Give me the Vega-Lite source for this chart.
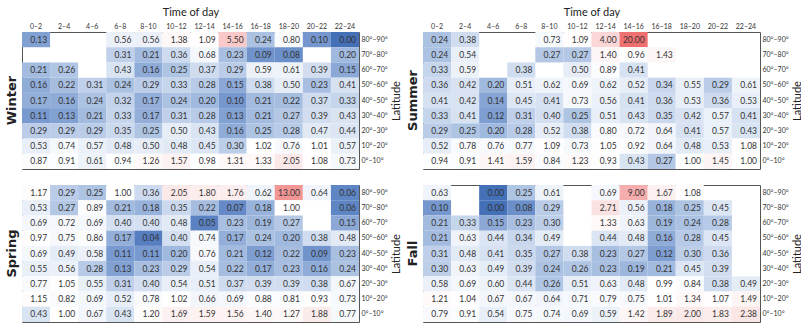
{
"$schema": "https://vega.github.io/schema/vega-lite/v6.json",
"padding": 5,
"config": {"view": {"stroke": "#555", "strokeWidth": 1}, "font": "Lato", "concat": {"spacing": 4}},
"datasets": {"d": [
{"s":"W","t":"0–2","l":"80°–90°","v":0.13},{"s":"W","t":"6–8","l":"80°–90°","v":0.56},{"s":"W","t":"8–10","l":"80°–90°","v":0.56},{"s":"W","t":"10–12","l":"80°–90°","v":1.38},{"s":"W","t":"12–14","l":"80°–90°","v":1.09},{"s":"W","t":"14–16","l":"80°–90°","v":5.50},{"s":"W","t":"16–18","l":"80°–90°","v":0.24},{"s":"W","t":"18–20","l":"80°–90°","v":0.80},{"s":"W","t":"20–22","l":"80°–90°","v":0.10},{"s":"W","t":"22–24","l":"80°–90°","v":0.00},
{"s":"W","t":"6–8","l":"70°–80°","v":0.31},{"s":"W","t":"8–10","l":"70°–80°","v":0.21},{"s":"W","t":"10–12","l":"70°–80°","v":0.36},{"s":"W","t":"12–14","l":"70°–80°","v":0.68},{"s":"W","t":"14–16","l":"70°–80°","v":0.23},{"s":"W","t":"16–18","l":"70°–80°","v":0.09},{"s":"W","t":"18–20","l":"70°–80°","v":0.08},{"s":"W","t":"22–24","l":"70°–80°","v":0.20},
{"s":"W","t":"0–2","l":"60°–70°","v":0.21},{"s":"W","t":"2–4","l":"60°–70°","v":0.26},{"s":"W","t":"6–8","l":"60°–70°","v":0.43},{"s":"W","t":"8–10","l":"60°–70°","v":0.16},{"s":"W","t":"10–12","l":"60°–70°","v":0.25},{"s":"W","t":"12–14","l":"60°–70°","v":0.37},{"s":"W","t":"14–16","l":"60°–70°","v":0.29},{"s":"W","t":"16–18","l":"60°–70°","v":0.59},{"s":"W","t":"18–20","l":"60°–70°","v":0.61},{"s":"W","t":"20–22","l":"60°–70°","v":0.39},{"s":"W","t":"22–24","l":"60°–70°","v":0.15},
{"s":"W","t":"0–2","l":"50°–60°","v":0.16},{"s":"W","t":"2–4","l":"50°–60°","v":0.22},{"s":"W","t":"4–6","l":"50°–60°","v":0.31},{"s":"W","t":"6–8","l":"50°–60°","v":0.24},{"s":"W","t":"8–10","l":"50°–60°","v":0.29},{"s":"W","t":"10–12","l":"50°–60°","v":0.33},{"s":"W","t":"12–14","l":"50°–60°","v":0.28},{"s":"W","t":"14–16","l":"50°–60°","v":0.15},{"s":"W","t":"16–18","l":"50°–60°","v":0.38},{"s":"W","t":"18–20","l":"50°–60°","v":0.50},{"s":"W","t":"20–22","l":"50°–60°","v":0.23},{"s":"W","t":"22–24","l":"50°–60°","v":0.41},
{"s":"W","t":"0–2","l":"40°–50°","v":0.17},{"s":"W","t":"2–4","l":"40°–50°","v":0.16},{"s":"W","t":"4–6","l":"40°–50°","v":0.24},{"s":"W","t":"6–8","l":"40°–50°","v":0.32},{"s":"W","t":"8–10","l":"40°–50°","v":0.17},{"s":"W","t":"10–12","l":"40°–50°","v":0.24},{"s":"W","t":"12–14","l":"40°–50°","v":0.20},{"s":"W","t":"14–16","l":"40°–50°","v":0.10},{"s":"W","t":"16–18","l":"40°–50°","v":0.21},{"s":"W","t":"18–20","l":"40°–50°","v":0.22},{"s":"W","t":"20–22","l":"40°–50°","v":0.37},{"s":"W","t":"22–24","l":"40°–50°","v":0.33},
{"s":"W","t":"0–2","l":"30°–40°","v":0.11},{"s":"W","t":"2–4","l":"30°–40°","v":0.13},{"s":"W","t":"4–6","l":"30°–40°","v":0.21},{"s":"W","t":"6–8","l":"30°–40°","v":0.33},{"s":"W","t":"8–10","l":"30°–40°","v":0.17},{"s":"W","t":"10–12","l":"30°–40°","v":0.31},{"s":"W","t":"12–14","l":"30°–40°","v":0.28},{"s":"W","t":"14–16","l":"30°–40°","v":0.13},{"s":"W","t":"16–18","l":"30°–40°","v":0.21},{"s":"W","t":"18–20","l":"30°–40°","v":0.27},{"s":"W","t":"20–22","l":"30°–40°","v":0.39},{"s":"W","t":"22–24","l":"30°–40°","v":0.43},
{"s":"W","t":"0–2","l":"20°–30°","v":0.29},{"s":"W","t":"2–4","l":"20°–30°","v":0.29},{"s":"W","t":"4–6","l":"20°–30°","v":0.29},{"s":"W","t":"6–8","l":"20°–30°","v":0.35},{"s":"W","t":"8–10","l":"20°–30°","v":0.25},{"s":"W","t":"10–12","l":"20°–30°","v":0.50},{"s":"W","t":"12–14","l":"20°–30°","v":0.43},{"s":"W","t":"14–16","l":"20°–30°","v":0.16},{"s":"W","t":"16–18","l":"20°–30°","v":0.25},{"s":"W","t":"18–20","l":"20°–30°","v":0.28},{"s":"W","t":"20–22","l":"20°–30°","v":0.47},{"s":"W","t":"22–24","l":"20°–30°","v":0.44},
{"s":"W","t":"0–2","l":"10°–20°","v":0.53},{"s":"W","t":"2–4","l":"10°–20°","v":0.74},{"s":"W","t":"4–6","l":"10°–20°","v":0.57},{"s":"W","t":"6–8","l":"10°–20°","v":0.48},{"s":"W","t":"8–10","l":"10°–20°","v":0.50},{"s":"W","t":"10–12","l":"10°–20°","v":0.48},{"s":"W","t":"12–14","l":"10°–20°","v":0.45},{"s":"W","t":"14–16","l":"10°–20°","v":0.30},{"s":"W","t":"16–18","l":"10°–20°","v":1.02},{"s":"W","t":"18–20","l":"10°–20°","v":0.76},{"s":"W","t":"20–22","l":"10°–20°","v":1.01},{"s":"W","t":"22–24","l":"10°–20°","v":0.57},
{"s":"W","t":"0–2","l":"0°–10°","v":0.87},{"s":"W","t":"2–4","l":"0°–10°","v":0.91},{"s":"W","t":"4–6","l":"0°–10°","v":0.61},{"s":"W","t":"6–8","l":"0°–10°","v":0.94},{"s":"W","t":"8–10","l":"0°–10°","v":1.26},{"s":"W","t":"10–12","l":"0°–10°","v":1.57},{"s":"W","t":"12–14","l":"0°–10°","v":0.98},{"s":"W","t":"14–16","l":"0°–10°","v":1.31},{"s":"W","t":"16–18","l":"0°–10°","v":1.33},{"s":"W","t":"18–20","l":"0°–10°","v":2.05},{"s":"W","t":"20–22","l":"0°–10°","v":1.08},{"s":"W","t":"22–24","l":"0°–10°","v":0.73},

{"s":"Su","t":"0–2","l":"80°–90°","v":0.24},{"s":"Su","t":"2–4","l":"80°–90°","v":0.38},{"s":"Su","t":"8–10","l":"80°–90°","v":0.73},{"s":"Su","t":"10–12","l":"80°–90°","v":1.09},{"s":"Su","t":"12–14","l":"80°–90°","v":4.00},{"s":"Su","t":"14–16","l":"80°–90°","v":20.00},
{"s":"Su","t":"0–2","l":"70°–80°","v":0.24},{"s":"Su","t":"2–4","l":"70°–80°","v":0.54},{"s":"Su","t":"8–10","l":"70°–80°","v":0.27},{"s":"Su","t":"10–12","l":"70°–80°","v":0.27},{"s":"Su","t":"12–14","l":"70°–80°","v":1.40},{"s":"Su","t":"14–16","l":"70°–80°","v":0.96},{"s":"Su","t":"16–18","l":"70°–80°","v":1.43},
{"s":"Su","t":"0–2","l":"60°–70°","v":0.33},{"s":"Su","t":"2–4","l":"60°–70°","v":0.59},{"s":"Su","t":"6–8","l":"60°–70°","v":0.38},{"s":"Su","t":"10–12","l":"60°–70°","v":0.50},{"s":"Su","t":"12–14","l":"60°–70°","v":0.89},{"s":"Su","t":"14–16","l":"60°–70°","v":0.41},
{"s":"Su","t":"0–2","l":"50°–60°","v":0.36},{"s":"Su","t":"2–4","l":"50°–60°","v":0.42},{"s":"Su","t":"4–6","l":"50°–60°","v":0.20},{"s":"Su","t":"6–8","l":"50°–60°","v":0.51},{"s":"Su","t":"8–10","l":"50°–60°","v":0.62},{"s":"Su","t":"10–12","l":"50°–60°","v":0.69},{"s":"Su","t":"12–14","l":"50°–60°","v":0.62},{"s":"Su","t":"14–16","l":"50°–60°","v":0.52},{"s":"Su","t":"16–18","l":"50°–60°","v":0.34},{"s":"Su","t":"18–20","l":"50°–60°","v":0.55},{"s":"Su","t":"20–22","l":"50°–60°","v":0.29},{"s":"Su","t":"22–24","l":"50°–60°","v":0.61},
{"s":"Su","t":"0–2","l":"40°–50°","v":0.41},{"s":"Su","t":"2–4","l":"40°–50°","v":0.42},{"s":"Su","t":"4–6","l":"40°–50°","v":0.14},{"s":"Su","t":"6–8","l":"40°–50°","v":0.45},{"s":"Su","t":"8–10","l":"40°–50°","v":0.41},{"s":"Su","t":"10–12","l":"40°–50°","v":0.73},{"s":"Su","t":"12–14","l":"40°–50°","v":0.56},{"s":"Su","t":"14–16","l":"40°–50°","v":0.41},{"s":"Su","t":"16–18","l":"40°–50°","v":0.36},{"s":"Su","t":"18–20","l":"40°–50°","v":0.53},{"s":"Su","t":"20–22","l":"40°–50°","v":0.36},{"s":"Su","t":"22–24","l":"40°–50°","v":0.53},
{"s":"Su","t":"0–2","l":"30°–40°","v":0.33},{"s":"Su","t":"2–4","l":"30°–40°","v":0.41},{"s":"Su","t":"4–6","l":"30°–40°","v":0.12},{"s":"Su","t":"6–8","l":"30°–40°","v":0.31},{"s":"Su","t":"8–10","l":"30°–40°","v":0.40},{"s":"Su","t":"10–12","l":"30°–40°","v":0.25},{"s":"Su","t":"12–14","l":"30°–40°","v":0.51},{"s":"Su","t":"14–16","l":"30°–40°","v":0.43},{"s":"Su","t":"16–18","l":"30°–40°","v":0.35},{"s":"Su","t":"18–20","l":"30°–40°","v":0.42},{"s":"Su","t":"20–22","l":"30°–40°","v":0.57},{"s":"Su","t":"22–24","l":"30°–40°","v":0.41},
{"s":"Su","t":"0–2","l":"20°–30°","v":0.29},{"s":"Su","t":"2–4","l":"20°–30°","v":0.25},{"s":"Su","t":"4–6","l":"20°–30°","v":0.20},{"s":"Su","t":"6–8","l":"20°–30°","v":0.28},{"s":"Su","t":"8–10","l":"20°–30°","v":0.52},{"s":"Su","t":"10–12","l":"20°–30°","v":0.38},{"s":"Su","t":"12–14","l":"20°–30°","v":0.80},{"s":"Su","t":"14–16","l":"20°–30°","v":0.72},{"s":"Su","t":"16–18","l":"20°–30°","v":0.64},{"s":"Su","t":"18–20","l":"20°–30°","v":0.41},{"s":"Su","t":"20–22","l":"20°–30°","v":0.57},{"s":"Su","t":"22–24","l":"20°–30°","v":0.43},
{"s":"Su","t":"0–2","l":"10°–20°","v":0.52},{"s":"Su","t":"2–4","l":"10°–20°","v":0.78},{"s":"Su","t":"4–6","l":"10°–20°","v":0.76},{"s":"Su","t":"6–8","l":"10°–20°","v":0.77},{"s":"Su","t":"8–10","l":"10°–20°","v":1.09},{"s":"Su","t":"10–12","l":"10°–20°","v":0.73},{"s":"Su","t":"12–14","l":"10°–20°","v":1.05},{"s":"Su","t":"14–16","l":"10°–20°","v":0.92},{"s":"Su","t":"16–18","l":"10°–20°","v":0.64},{"s":"Su","t":"18–20","l":"10°–20°","v":0.48},{"s":"Su","t":"20–22","l":"10°–20°","v":0.53},{"s":"Su","t":"22–24","l":"10°–20°","v":1.08},
{"s":"Su","t":"0–2","l":"0°–10°","v":0.94},{"s":"Su","t":"2–4","l":"0°–10°","v":0.91},{"s":"Su","t":"4–6","l":"0°–10°","v":1.41},{"s":"Su","t":"6–8","l":"0°–10°","v":1.59},{"s":"Su","t":"8–10","l":"0°–10°","v":0.84},{"s":"Su","t":"10–12","l":"0°–10°","v":1.23},{"s":"Su","t":"12–14","l":"0°–10°","v":0.93},{"s":"Su","t":"14–16","l":"0°–10°","v":0.43},{"s":"Su","t":"16–18","l":"0°–10°","v":0.27},{"s":"Su","t":"18–20","l":"0°–10°","v":1.00},{"s":"Su","t":"20–22","l":"0°–10°","v":1.45},{"s":"Su","t":"22–24","l":"0°–10°","v":1.00},

{"s":"Sp","t":"0–2","l":"80°–90°","v":1.17},{"s":"Sp","t":"2–4","l":"80°–90°","v":0.29},{"s":"Sp","t":"4–6","l":"80°–90°","v":0.25},{"s":"Sp","t":"6–8","l":"80°–90°","v":1.00},{"s":"Sp","t":"8–10","l":"80°–90°","v":0.36},{"s":"Sp","t":"10–12","l":"80°–90°","v":2.05},{"s":"Sp","t":"12–14","l":"80°–90°","v":1.80},{"s":"Sp","t":"14–16","l":"80°–90°","v":1.76},{"s":"Sp","t":"16–18","l":"80°–90°","v":0.62},{"s":"Sp","t":"18–20","l":"80°–90°","v":13.00},{"s":"Sp","t":"20–22","l":"80°–90°","v":0.64},{"s":"Sp","t":"22–24","l":"80°–90°","v":0.06},
{"s":"Sp","t":"0–2","l":"70°–80°","v":0.53},{"s":"Sp","t":"2–4","l":"70°–80°","v":0.27},{"s":"Sp","t":"4–6","l":"70°–80°","v":0.89},{"s":"Sp","t":"6–8","l":"70°–80°","v":0.21},{"s":"Sp","t":"8–10","l":"70°–80°","v":0.18},{"s":"Sp","t":"10–12","l":"70°–80°","v":0.35},{"s":"Sp","t":"12–14","l":"70°–80°","v":0.22},{"s":"Sp","t":"14–16","l":"70°–80°","v":0.07},{"s":"Sp","t":"16–18","l":"70°–80°","v":0.18},{"s":"Sp","t":"18–20","l":"70°–80°","v":1.00},{"s":"Sp","t":"22–24","l":"70°–80°","v":0.06},
{"s":"Sp","t":"0–2","l":"60°–70°","v":0.69},{"s":"Sp","t":"2–4","l":"60°–70°","v":0.72},{"s":"Sp","t":"4–6","l":"60°–70°","v":0.69},{"s":"Sp","t":"6–8","l":"60°–70°","v":0.40},{"s":"Sp","t":"8–10","l":"60°–70°","v":0.40},{"s":"Sp","t":"10–12","l":"60°–70°","v":0.48},{"s":"Sp","t":"12–14","l":"60°–70°","v":0.05},{"s":"Sp","t":"14–16","l":"60°–70°","v":0.23},{"s":"Sp","t":"16–18","l":"60°–70°","v":0.19},{"s":"Sp","t":"18–20","l":"60°–70°","v":0.27},{"s":"Sp","t":"22–24","l":"60°–70°","v":0.15},
{"s":"Sp","t":"0–2","l":"50°–60°","v":0.97},{"s":"Sp","t":"2–4","l":"50°–60°","v":0.75},{"s":"Sp","t":"4–6","l":"50°–60°","v":0.86},{"s":"Sp","t":"6–8","l":"50°–60°","v":0.17},{"s":"Sp","t":"8–10","l":"50°–60°","v":0.04},{"s":"Sp","t":"10–12","l":"50°–60°","v":0.40},{"s":"Sp","t":"12–14","l":"50°–60°","v":0.74},{"s":"Sp","t":"14–16","l":"50°–60°","v":0.17},{"s":"Sp","t":"16–18","l":"50°–60°","v":0.24},{"s":"Sp","t":"18–20","l":"50°–60°","v":0.20},{"s":"Sp","t":"20–22","l":"50°–60°","v":0.38},{"s":"Sp","t":"22–24","l":"50°–60°","v":0.48},
{"s":"Sp","t":"0–2","l":"40°–50°","v":0.69},{"s":"Sp","t":"2–4","l":"40°–50°","v":0.49},{"s":"Sp","t":"4–6","l":"40°–50°","v":0.58},{"s":"Sp","t":"6–8","l":"40°–50°","v":0.11},{"s":"Sp","t":"8–10","l":"40°–50°","v":0.11},{"s":"Sp","t":"10–12","l":"40°–50°","v":0.20},{"s":"Sp","t":"12–14","l":"40°–50°","v":0.76},{"s":"Sp","t":"14–16","l":"40°–50°","v":0.21},{"s":"Sp","t":"16–18","l":"40°–50°","v":0.12},{"s":"Sp","t":"18–20","l":"40°–50°","v":0.22},{"s":"Sp","t":"20–22","l":"40°–50°","v":0.09},{"s":"Sp","t":"22–24","l":"40°–50°","v":0.23},
{"s":"Sp","t":"0–2","l":"30°–40°","v":0.55},{"s":"Sp","t":"2–4","l":"30°–40°","v":0.56},{"s":"Sp","t":"4–6","l":"30°–40°","v":0.28},{"s":"Sp","t":"6–8","l":"30°–40°","v":0.13},{"s":"Sp","t":"8–10","l":"30°–40°","v":0.23},{"s":"Sp","t":"10–12","l":"30°–40°","v":0.29},{"s":"Sp","t":"12–14","l":"30°–40°","v":0.54},{"s":"Sp","t":"14–16","l":"30°–40°","v":0.22},{"s":"Sp","t":"16–18","l":"30°–40°","v":0.17},{"s":"Sp","t":"18–20","l":"30°–40°","v":0.23},{"s":"Sp","t":"20–22","l":"30°–40°","v":0.16},{"s":"Sp","t":"22–24","l":"30°–40°","v":0.24},
{"s":"Sp","t":"0–2","l":"20°–30°","v":0.77},{"s":"Sp","t":"2–4","l":"20°–30°","v":1.05},{"s":"Sp","t":"4–6","l":"20°–30°","v":0.55},{"s":"Sp","t":"6–8","l":"20°–30°","v":0.31},{"s":"Sp","t":"8–10","l":"20°–30°","v":0.40},{"s":"Sp","t":"10–12","l":"20°–30°","v":0.54},{"s":"Sp","t":"12–14","l":"20°–30°","v":0.51},{"s":"Sp","t":"14–16","l":"20°–30°","v":0.37},{"s":"Sp","t":"16–18","l":"20°–30°","v":0.39},{"s":"Sp","t":"18–20","l":"20°–30°","v":0.39},{"s":"Sp","t":"20–22","l":"20°–30°","v":0.38},{"s":"Sp","t":"22–24","l":"20°–30°","v":0.67},
{"s":"Sp","t":"0–2","l":"10°–20°","v":1.15},{"s":"Sp","t":"2–4","l":"10°–20°","v":0.82},{"s":"Sp","t":"4–6","l":"10°–20°","v":0.69},{"s":"Sp","t":"6–8","l":"10°–20°","v":0.52},{"s":"Sp","t":"8–10","l":"10°–20°","v":0.78},{"s":"Sp","t":"10–12","l":"10°–20°","v":1.02},{"s":"Sp","t":"12–14","l":"10°–20°","v":0.66},{"s":"Sp","t":"14–16","l":"10°–20°","v":0.69},{"s":"Sp","t":"16–18","l":"10°–20°","v":0.88},{"s":"Sp","t":"18–20","l":"10°–20°","v":0.81},{"s":"Sp","t":"20–22","l":"10°–20°","v":0.93},{"s":"Sp","t":"22–24","l":"10°–20°","v":0.73},
{"s":"Sp","t":"0–2","l":"0°–10°","v":0.43},{"s":"Sp","t":"2–4","l":"0°–10°","v":1.00},{"s":"Sp","t":"4–6","l":"0°–10°","v":0.67},{"s":"Sp","t":"6–8","l":"0°–10°","v":0.43},{"s":"Sp","t":"8–10","l":"0°–10°","v":1.20},{"s":"Sp","t":"10–12","l":"0°–10°","v":1.69},{"s":"Sp","t":"12–14","l":"0°–10°","v":1.59},{"s":"Sp","t":"14–16","l":"0°–10°","v":1.56},{"s":"Sp","t":"16–18","l":"0°–10°","v":1.40},{"s":"Sp","t":"18–20","l":"0°–10°","v":1.27},{"s":"Sp","t":"20–22","l":"0°–10°","v":1.88},{"s":"Sp","t":"22–24","l":"0°–10°","v":0.77},

{"s":"F","t":"0–2","l":"80°–90°","v":0.63},{"s":"F","t":"4–6","l":"80°–90°","v":0.00},{"s":"F","t":"6–8","l":"80°–90°","v":0.25},{"s":"F","t":"8–10","l":"80°–90°","v":0.61},{"s":"F","t":"12–14","l":"80°–90°","v":0.69},{"s":"F","t":"14–16","l":"80°–90°","v":9.00},{"s":"F","t":"16–18","l":"80°–90°","v":1.67},{"s":"F","t":"18–20","l":"80°–90°","v":1.08},
{"s":"F","t":"0–2","l":"70°–80°","v":0.10},{"s":"F","t":"4–6","l":"70°–80°","v":0.00},{"s":"F","t":"6–8","l":"70°–80°","v":0.08},{"s":"F","t":"8–10","l":"70°–80°","v":0.29},{"s":"F","t":"12–14","l":"70°–80°","v":2.71},{"s":"F","t":"14–16","l":"70°–80°","v":0.56},{"s":"F","t":"16–18","l":"70°–80°","v":0.18},{"s":"F","t":"18–20","l":"70°–80°","v":0.25},{"s":"F","t":"20–22","l":"70°–80°","v":0.45},
{"s":"F","t":"0–2","l":"60°–70°","v":0.21},{"s":"F","t":"2–4","l":"60°–70°","v":0.33},{"s":"F","t":"4–6","l":"60°–70°","v":0.15},{"s":"F","t":"6–8","l":"60°–70°","v":0.23},{"s":"F","t":"8–10","l":"60°–70°","v":0.30},{"s":"F","t":"12–14","l":"60°–70°","v":1.33},{"s":"F","t":"14–16","l":"60°–70°","v":0.63},{"s":"F","t":"16–18","l":"60°–70°","v":0.19},{"s":"F","t":"18–20","l":"60°–70°","v":0.24},{"s":"F","t":"20–22","l":"60°–70°","v":0.28},
{"s":"F","t":"0–2","l":"50°–60°","v":0.21},{"s":"F","t":"2–4","l":"50°–60°","v":0.63},{"s":"F","t":"4–6","l":"50°–60°","v":0.44},{"s":"F","t":"6–8","l":"50°–60°","v":0.34},{"s":"F","t":"8–10","l":"50°–60°","v":0.49},{"s":"F","t":"12–14","l":"50°–60°","v":0.44},{"s":"F","t":"14–16","l":"50°–60°","v":0.48},{"s":"F","t":"16–18","l":"50°–60°","v":0.16},{"s":"F","t":"18–20","l":"50°–60°","v":0.28},{"s":"F","t":"20–22","l":"50°–60°","v":0.45},
{"s":"F","t":"0–2","l":"40°–50°","v":0.31},{"s":"F","t":"2–4","l":"40°–50°","v":0.48},{"s":"F","t":"4–6","l":"40°–50°","v":0.41},{"s":"F","t":"6–8","l":"40°–50°","v":0.35},{"s":"F","t":"8–10","l":"40°–50°","v":0.27},{"s":"F","t":"10–12","l":"40°–50°","v":0.38},{"s":"F","t":"12–14","l":"40°–50°","v":0.23},{"s":"F","t":"14–16","l":"40°–50°","v":0.27},{"s":"F","t":"16–18","l":"40°–50°","v":0.12},{"s":"F","t":"18–20","l":"40°–50°","v":0.30},{"s":"F","t":"20–22","l":"40°–50°","v":0.36},
{"s":"F","t":"0–2","l":"30°–40°","v":0.30},{"s":"F","t":"2–4","l":"30°–40°","v":0.63},{"s":"F","t":"4–6","l":"30°–40°","v":0.49},{"s":"F","t":"6–8","l":"30°–40°","v":0.39},{"s":"F","t":"8–10","l":"30°–40°","v":0.24},{"s":"F","t":"10–12","l":"30°–40°","v":0.26},{"s":"F","t":"12–14","l":"30°–40°","v":0.23},{"s":"F","t":"14–16","l":"30°–40°","v":0.19},{"s":"F","t":"16–18","l":"30°–40°","v":0.21},{"s":"F","t":"18–20","l":"30°–40°","v":0.45},{"s":"F","t":"20–22","l":"30°–40°","v":0.39},
{"s":"F","t":"0–2","l":"20°–30°","v":0.58},{"s":"F","t":"2–4","l":"20°–30°","v":0.69},{"s":"F","t":"4–6","l":"20°–30°","v":0.60},{"s":"F","t":"6–8","l":"20°–30°","v":0.44},{"s":"F","t":"8–10","l":"20°–30°","v":0.26},{"s":"F","t":"10–12","l":"20°–30°","v":0.51},{"s":"F","t":"12–14","l":"20°–30°","v":0.63},{"s":"F","t":"14–16","l":"20°–30°","v":0.48},{"s":"F","t":"16–18","l":"20°–30°","v":0.99},{"s":"F","t":"18–20","l":"20°–30°","v":0.84},{"s":"F","t":"20–22","l":"20°–30°","v":0.38},{"s":"F","t":"22–24","l":"20°–30°","v":0.49},
{"s":"F","t":"0–2","l":"10°–20°","v":1.21},{"s":"F","t":"2–4","l":"10°–20°","v":1.04},{"s":"F","t":"4–6","l":"10°–20°","v":0.67},{"s":"F","t":"6–8","l":"10°–20°","v":0.67},{"s":"F","t":"8–10","l":"10°–20°","v":0.64},{"s":"F","t":"10–12","l":"10°–20°","v":0.71},{"s":"F","t":"12–14","l":"10°–20°","v":0.79},{"s":"F","t":"14–16","l":"10°–20°","v":0.75},{"s":"F","t":"16–18","l":"10°–20°","v":1.01},{"s":"F","t":"18–20","l":"10°–20°","v":1.34},{"s":"F","t":"20–22","l":"10°–20°","v":1.07},{"s":"F","t":"22–24","l":"10°–20°","v":1.49},
{"s":"F","t":"0–2","l":"0°–10°","v":0.79},{"s":"F","t":"2–4","l":"0°–10°","v":0.91},{"s":"F","t":"4–6","l":"0°–10°","v":0.54},{"s":"F","t":"6–8","l":"0°–10°","v":0.75},{"s":"F","t":"8–10","l":"0°–10°","v":0.74},{"s":"F","t":"10–12","l":"0°–10°","v":0.69},{"s":"F","t":"12–14","l":"0°–10°","v":0.59},{"s":"F","t":"14–16","l":"0°–10°","v":1.42},{"s":"F","t":"16–18","l":"0°–10°","v":1.89},{"s":"F","t":"18–20","l":"0°–10°","v":2.00},{"s":"F","t":"20–22","l":"0°–10°","v":1.83},{"s":"F","t":"22–24","l":"0°–10°","v":2.38}
]},
"data": {"name": "d"},
"vconcat": [
{"hconcat": [
{"width": 337, "height": 137,
 "title": {"text": "Winter", "orient": "left", "font": "DejaVu Sans", "fontSize": 13, "fontWeight": "bold", "color": "#222", "offset": 3},
 "transform": [{"filter": "datum.s == 'W'"}],
 "layer": [
  {"mark": "rect", "encoding": {
   "x": {"field": "t", "type": "ordinal", "scale": {"domain": ["0–2","2–4","4–6","6–8","8–10","10–12","12–14","14–16","16–18","18–20","20–22","22–24"]}, "axis": {"orient": "top", "title": "Time of day", "labelAngle": 0, "ticks": false, "domain": false, "labelFontSize": 7, "labelColor": "#333", "labelPadding": 3, "titleFontSize": 11, "titleFontWeight": "normal", "titleColor": "#222", "titlePadding": 5}},
   "y": {"field": "l", "type": "ordinal", "scale": {"domain": ["80°–90°","70°–80°","60°–70°","50°–60°","40°–50°","30°–40°","20°–30°","10°–20°","0°–10°"]}, "axis": {"orient": "right", "title": "Latitude", "ticks": false, "domain": false, "labelFontSize": 7, "labelColor": "#333", "labelPadding": 2, "titleFontSize": 11, "titleFontWeight": "normal", "titleColor": "#222", "titleAngle": -90, "titleBaseline": "top", "titlePadding": 3}},
   "color": {"field": "v", "type": "quantitative", "legend": null, "scale": {"type": "linear", "domain": [0,0.05,0.1,0.2,0.35,0.5,0.7,1,2,5,10,20], "range": ["#4470b8","#5a82c2","#7597ce","#a0b9de","#cbd9ee","#e6edf7","#f5f8fc","#ffffff","#fbe9e9","#f9cdcd","#f4a5a5","#ee7070"], "interpolate": "rgb"}}}},
  {"mark": {"type": "text", "align": "right", "dx": -3, "fontSize": 8.5, "color": "#333"}, "encoding": {
   "x": {"field": "t", "type": "ordinal", "bandPosition": 1},
   "y": {"field": "l", "type": "ordinal"},
   "text": {"field": "v", "type": "quantitative", "format": ".2f"}}}
 ]},
{"width": 337, "height": 137,
 "title": {"text": "Summer", "orient": "left", "font": "DejaVu Sans", "fontSize": 13, "fontWeight": "bold", "color": "#222", "offset": 3},
 "transform": [{"filter": "datum.s == 'Su'"}],
 "layer": [
  {"mark": "rect", "encoding": {
   "x": {"field": "t", "type": "ordinal", "scale": {"domain": ["0–2","2–4","4–6","6–8","8–10","10–12","12–14","14–16","16–18","18–20","20–22","22–24"]}, "axis": {"orient": "top", "title": "Time of day", "labelAngle": 0, "ticks": false, "domain": false, "labelFontSize": 7, "labelColor": "#333", "labelPadding": 3, "titleFontSize": 11, "titleFontWeight": "normal", "titleColor": "#222", "titlePadding": 5}},
   "y": {"field": "l", "type": "ordinal", "scale": {"domain": ["80°–90°","70°–80°","60°–70°","50°–60°","40°–50°","30°–40°","20°–30°","10°–20°","0°–10°"]}, "axis": {"orient": "right", "title": "Latitude", "ticks": false, "domain": false, "labelFontSize": 7, "labelColor": "#333", "labelPadding": 2, "titleFontSize": 11, "titleFontWeight": "normal", "titleColor": "#222", "titleAngle": -90, "titleBaseline": "top", "titlePadding": 3}},
   "color": {"field": "v", "type": "quantitative", "legend": null, "scale": {"type": "linear", "domain": [0,0.05,0.1,0.2,0.35,0.5,0.7,1,2,5,10,20], "range": ["#4470b8","#5a82c2","#7597ce","#a0b9de","#cbd9ee","#e6edf7","#f5f8fc","#ffffff","#fbe9e9","#f9cdcd","#f4a5a5","#ee7070"], "interpolate": "rgb"}}}},
  {"mark": {"type": "text", "align": "right", "dx": -3, "fontSize": 8.5, "color": "#333"}, "encoding": {
   "x": {"field": "t", "type": "ordinal", "bandPosition": 1},
   "y": {"field": "l", "type": "ordinal"},
   "text": {"field": "v", "type": "quantitative", "format": ".2f"}}}
 ]}
]},
{"hconcat": [
{"width": 337, "height": 137,
 "title": {"text": "Spring", "orient": "left", "font": "DejaVu Sans", "fontSize": 13, "fontWeight": "bold", "color": "#222", "offset": 3},
 "transform": [{"filter": "datum.s == 'Sp'"}],
 "layer": [
  {"mark": "rect", "encoding": {
   "x": {"field": "t", "type": "ordinal", "scale": {"domain": ["0–2","2–4","4–6","6–8","8–10","10–12","12–14","14–16","16–18","18–20","20–22","22–24"]}, "axis": null},
   "y": {"field": "l", "type": "ordinal", "scale": {"domain": ["80°–90°","70°–80°","60°–70°","50°–60°","40°–50°","30°–40°","20°–30°","10°–20°","0°–10°"]}, "axis": {"orient": "right", "title": "Latitude", "ticks": false, "domain": false, "labelFontSize": 7, "labelColor": "#333", "labelPadding": 2, "titleFontSize": 11, "titleFontWeight": "normal", "titleColor": "#222", "titleAngle": -90, "titleBaseline": "top", "titlePadding": 3}},
   "color": {"field": "v", "type": "quantitative", "legend": null, "scale": {"type": "linear", "domain": [0,0.05,0.1,0.2,0.35,0.5,0.7,1,2,5,10,20], "range": ["#4470b8","#5a82c2","#7597ce","#a0b9de","#cbd9ee","#e6edf7","#f5f8fc","#ffffff","#fbe9e9","#f9cdcd","#f4a5a5","#ee7070"], "interpolate": "rgb"}}}},
  {"mark": {"type": "text", "align": "right", "dx": -3, "fontSize": 8.5, "color": "#333"}, "encoding": {
   "x": {"field": "t", "type": "ordinal", "bandPosition": 1, "axis": null},
   "y": {"field": "l", "type": "ordinal"},
   "text": {"field": "v", "type": "quantitative", "format": ".2f"}}}
 ]},
{"width": 337, "height": 137,
 "title": {"text": "Fall", "orient": "left", "font": "DejaVu Sans", "fontSize": 13, "fontWeight": "bold", "color": "#222", "offset": 3},
 "transform": [{"filter": "datum.s == 'F'"}],
 "layer": [
  {"mark": "rect", "encoding": {
   "x": {"field": "t", "type": "ordinal", "scale": {"domain": ["0–2","2–4","4–6","6–8","8–10","10–12","12–14","14–16","16–18","18–20","20–22","22–24"]}, "axis": null},
   "y": {"field": "l", "type": "ordinal", "scale": {"domain": ["80°–90°","70°–80°","60°–70°","50°–60°","40°–50°","30°–40°","20°–30°","10°–20°","0°–10°"]}, "axis": {"orient": "right", "title": "Latitude", "ticks": false, "domain": false, "labelFontSize": 7, "labelColor": "#333", "labelPadding": 2, "titleFontSize": 11, "titleFontWeight": "normal", "titleColor": "#222", "titleAngle": -90, "titleBaseline": "top", "titlePadding": 3}},
   "color": {"field": "v", "type": "quantitative", "legend": null, "scale": {"type": "linear", "domain": [0,0.05,0.1,0.2,0.35,0.5,0.7,1,2,5,10,20], "range": ["#4470b8","#5a82c2","#7597ce","#a0b9de","#cbd9ee","#e6edf7","#f5f8fc","#ffffff","#fbe9e9","#f9cdcd","#f4a5a5","#ee7070"], "interpolate": "rgb"}}}},
  {"mark": {"type": "text", "align": "right", "dx": -3, "fontSize": 8.5, "color": "#333"}, "encoding": {
   "x": {"field": "t", "type": "ordinal", "bandPosition": 1, "axis": null},
   "y": {"field": "l", "type": "ordinal"},
   "text": {"field": "v", "type": "quantitative", "format": ".2f"}}}
 ]}
]}
],
"spacing": 14
}
